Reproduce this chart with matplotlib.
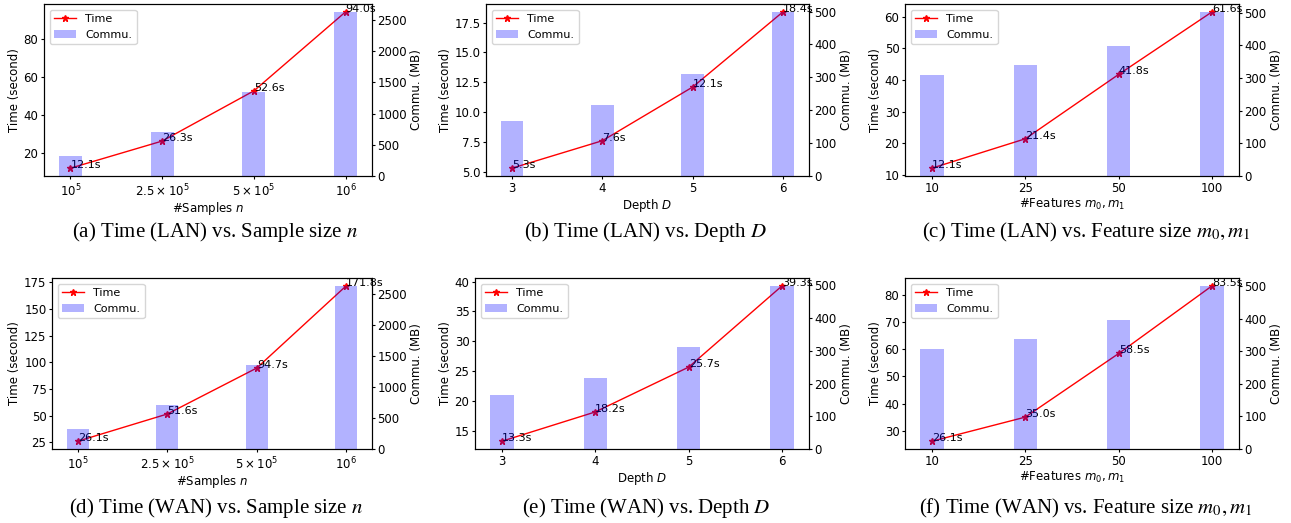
import matplotlib
matplotlib.use("Agg")
import matplotlib.pyplot as plt

plt.rcParams['font.size'] = 8.5
plt.rcParams['font.family'] = ['DejaVu Sans']
plt.rcParams['xtick.major.size'] = 2.5
plt.rcParams['ytick.major.size'] = 2.5
plt.rcParams['xtick.major.pad'] = 2
plt.rcParams['ytick.major.pad'] = 1.5

# x tick labels for each experiment
samples_ticks = [r"$10^5$", r"$2.5\times10^5$", r"$5\times10^5$", r"$10^6$"]
depth_ticks = ["3", "4", "5", "6"]
feature_ticks = ["10", "25", "50", "100"]

# time (seconds)
time_lan_samples = [12.1, 26.3, 52.6, 94.0]
time_lan_depth = [5.3, 7.6, 12.1, 18.4]
time_lan_features = [12.1, 21.4, 41.8, 61.6]
time_wan_samples = [26.1, 51.6, 94.7, 171.8]
time_wan_depth = [13.3, 18.2, 25.7, 39.3]
time_wan_features = [26.1, 35.0, 58.5, 83.5]

# communication (MB), same for LAN and WAN
commu_samples = [315, 702, 1346, 2625]
commu_depth = [166, 217, 311, 498]
commu_features = [308, 338, 397, 501]

xlabels = ["#Samples $n$", "Depth $D$", "#Features $m_0, m_1$"]
captions = [
    r"(a) Time (LAN) vs. Sample size $n$",
    r"(b) Time (LAN) vs. Depth $D$",
    r"(c) Time (LAN) vs. Feature size $m_0, m_1$",
    r"(d) Time (WAN) vs. Sample size $n$",
    r"(e) Time (WAN) vs. Depth $D$",
    r"(f) Time (WAN) vs. Feature size $m_0, m_1$",
]

panels = [
    (samples_ticks, time_lan_samples, commu_samples, xlabels[0]),
    (depth_ticks, time_lan_depth, commu_depth, xlabels[1]),
    (feature_ticks, time_lan_features, commu_features, xlabels[2]),
    (samples_ticks, time_wan_samples, commu_samples, xlabels[0]),
    (depth_ticks, time_wan_depth, commu_depth, xlabels[1]),
    (feature_ticks, time_wan_features, commu_features, xlabels[2]),
]

W, H = 1291, 523
# axes boxes in pixels: left, right, top, bottom
boxes = [
    (44, 372, 4, 176), (486, 809, 4, 176), (905, 1239, 4, 176),
    (52, 372, 278, 449), (475, 809, 278, 449), (905, 1239, 278, 449),
]
caption_pos = [(215, 232), (645, 232), (1086, 232), (216, 508), (646, 508), (1086, 508)]

fig = plt.figure(figsize=(W / 100, H / 100), dpi=100)

for i, (ticks, times, commu, xlabel) in enumerate(panels):
    l, r, t, b = boxes[i]
    ax1 = fig.add_axes([l / W, 1 - b / H, (r - l) / W, (b - t) / H])
    x = list(range(len(ticks)))

    line, = ax1.plot(x, times, color='red', marker='*', linewidth=1, markersize=5, label='Time')
    for xi, yi in zip(x, times):
        ax1.text(xi, yi, f"{yi:.1f}s", fontsize=8)
    ax1.set_ylabel('Time (second)', labelpad=2)
    ax1.set_xlabel(xlabel, labelpad=1)
    ax1.set_xticks(x)
    ax1.set_xticklabels(ticks)

    ax2 = ax1.twinx()
    bars = ax2.bar(x, commu, width=0.25, color='blue', alpha=0.3, label='Commu.')
    ax2.set_ylabel('Commu. (MB)', labelpad=2)

    ax2.legend([line, bars], ['Time', 'Commu.'], loc='upper left', fontsize=8)

    cx, cy = caption_pos[i]
    fig.text(cx / W, 1 - cy / H, captions[i], ha='center', va='center',
             fontsize=15, family='Liberation Serif', math_fontfamily='stix')

fig.savefig('out.png', dpi=100)
